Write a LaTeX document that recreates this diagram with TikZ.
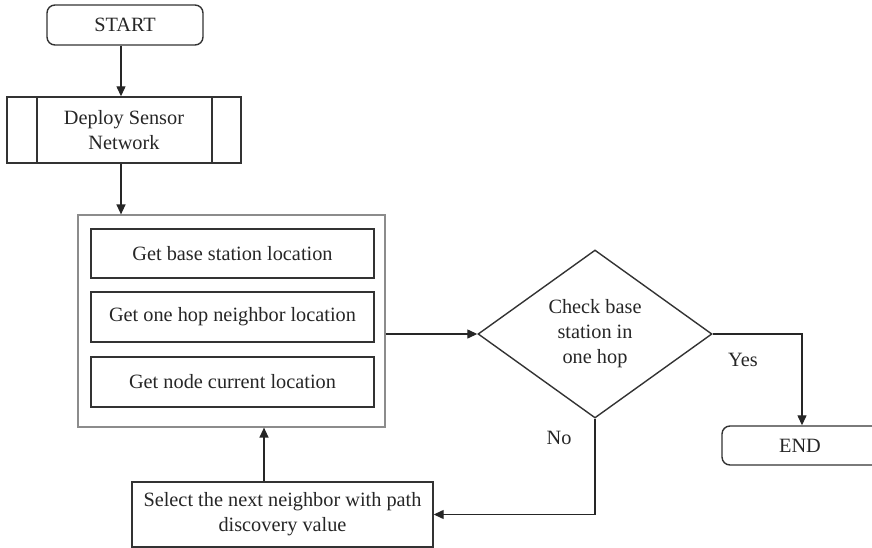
\documentclass[tikz,border=0pt]{standalone}
\usepackage{fontspec}
\setmainfont{Liberation Serif}
\usetikzlibrary{shapes.geometric,arrows.meta}
\begin{document}
\begin{tikzpicture}[x=1pt,y=-1pt,
  every node/.style={font=\fontsize{20.3}{25}\selectfont, text=black!85},
  ln/.style={draw=black!80, line width=1.4pt},
  box/.style={ln, rectangle, minimum width=#1, inner sep=0pt, align=center},
  arr/.style={draw=black!85, line width=1.3pt, -{Triangle[length=10pt,width=9pt]}},
  term/.style={ln, rectangle, rounded corners=8pt, inner sep=0pt, align=center}
]
\useasboundingbox (0,0) rectangle (872,548);
\clip (0,0) rectangle (872,548);
% START
\node[term, minimum width=156pt, minimum height=40pt] (start) at (125,25) {START};
% Deploy
\node[box=234pt, minimum height=66pt] (deploy) at (124,130) {Deploy Sensor\\Network};
\draw[ln] (37,97) -- (37,163);
\draw[ln] (212,97) -- (212,163);
% outer group
\node[draw=black!45, line width=1.2pt, rectangle, minimum width=307pt, minimum height=212pt, inner sep=0pt] (outer) at (231.5,321) {};
\node[box=283pt, minimum height=49pt] (b1) at (232.5,253.5) {Get base station location};
\node[box=283pt, minimum height=50pt] (b2) at (232.5,317) {Get one hop neighbor location};
\node[box=283pt, minimum height=50pt] (b3) at (232.5,382) {Get node current location};
% diamond
\node[ln, diamond, minimum width=234pt, minimum height=168pt, inner sep=0pt, aspect=1.39, align=center] (dia) at (595,334) {Check base\\station in\\one hop};
% END
\node[term, minimum width=160pt, minimum height=39pt] (end) at (802,445.5) {};
\node (endt) at (800,445.5) {END};
% Select
\node[box=301pt, minimum height=65pt] (sel) at (282.5,514.5) {Select the next neighbor with path\\discovery value};
% labels
\node (yes) at (743,360) {Yes};
\node (no) at (559,438) {No};
% connectors
\draw[arr] (start.south -| 121,0) -- (deploy.north -| 121,0);
\draw[arr] (deploy.south -| 121,0) -- (outer.north -| 121,0);
\draw[arr] (outer.east |- dia.west) -- (dia.west);
\draw[arr] (dia.east) -| (end.north);
\draw[arr] (dia.south) |- (sel.east);
\draw[arr] (sel.north -| 264,0) -- (outer.south -| 264,0);
\end{tikzpicture}
\end{document}
